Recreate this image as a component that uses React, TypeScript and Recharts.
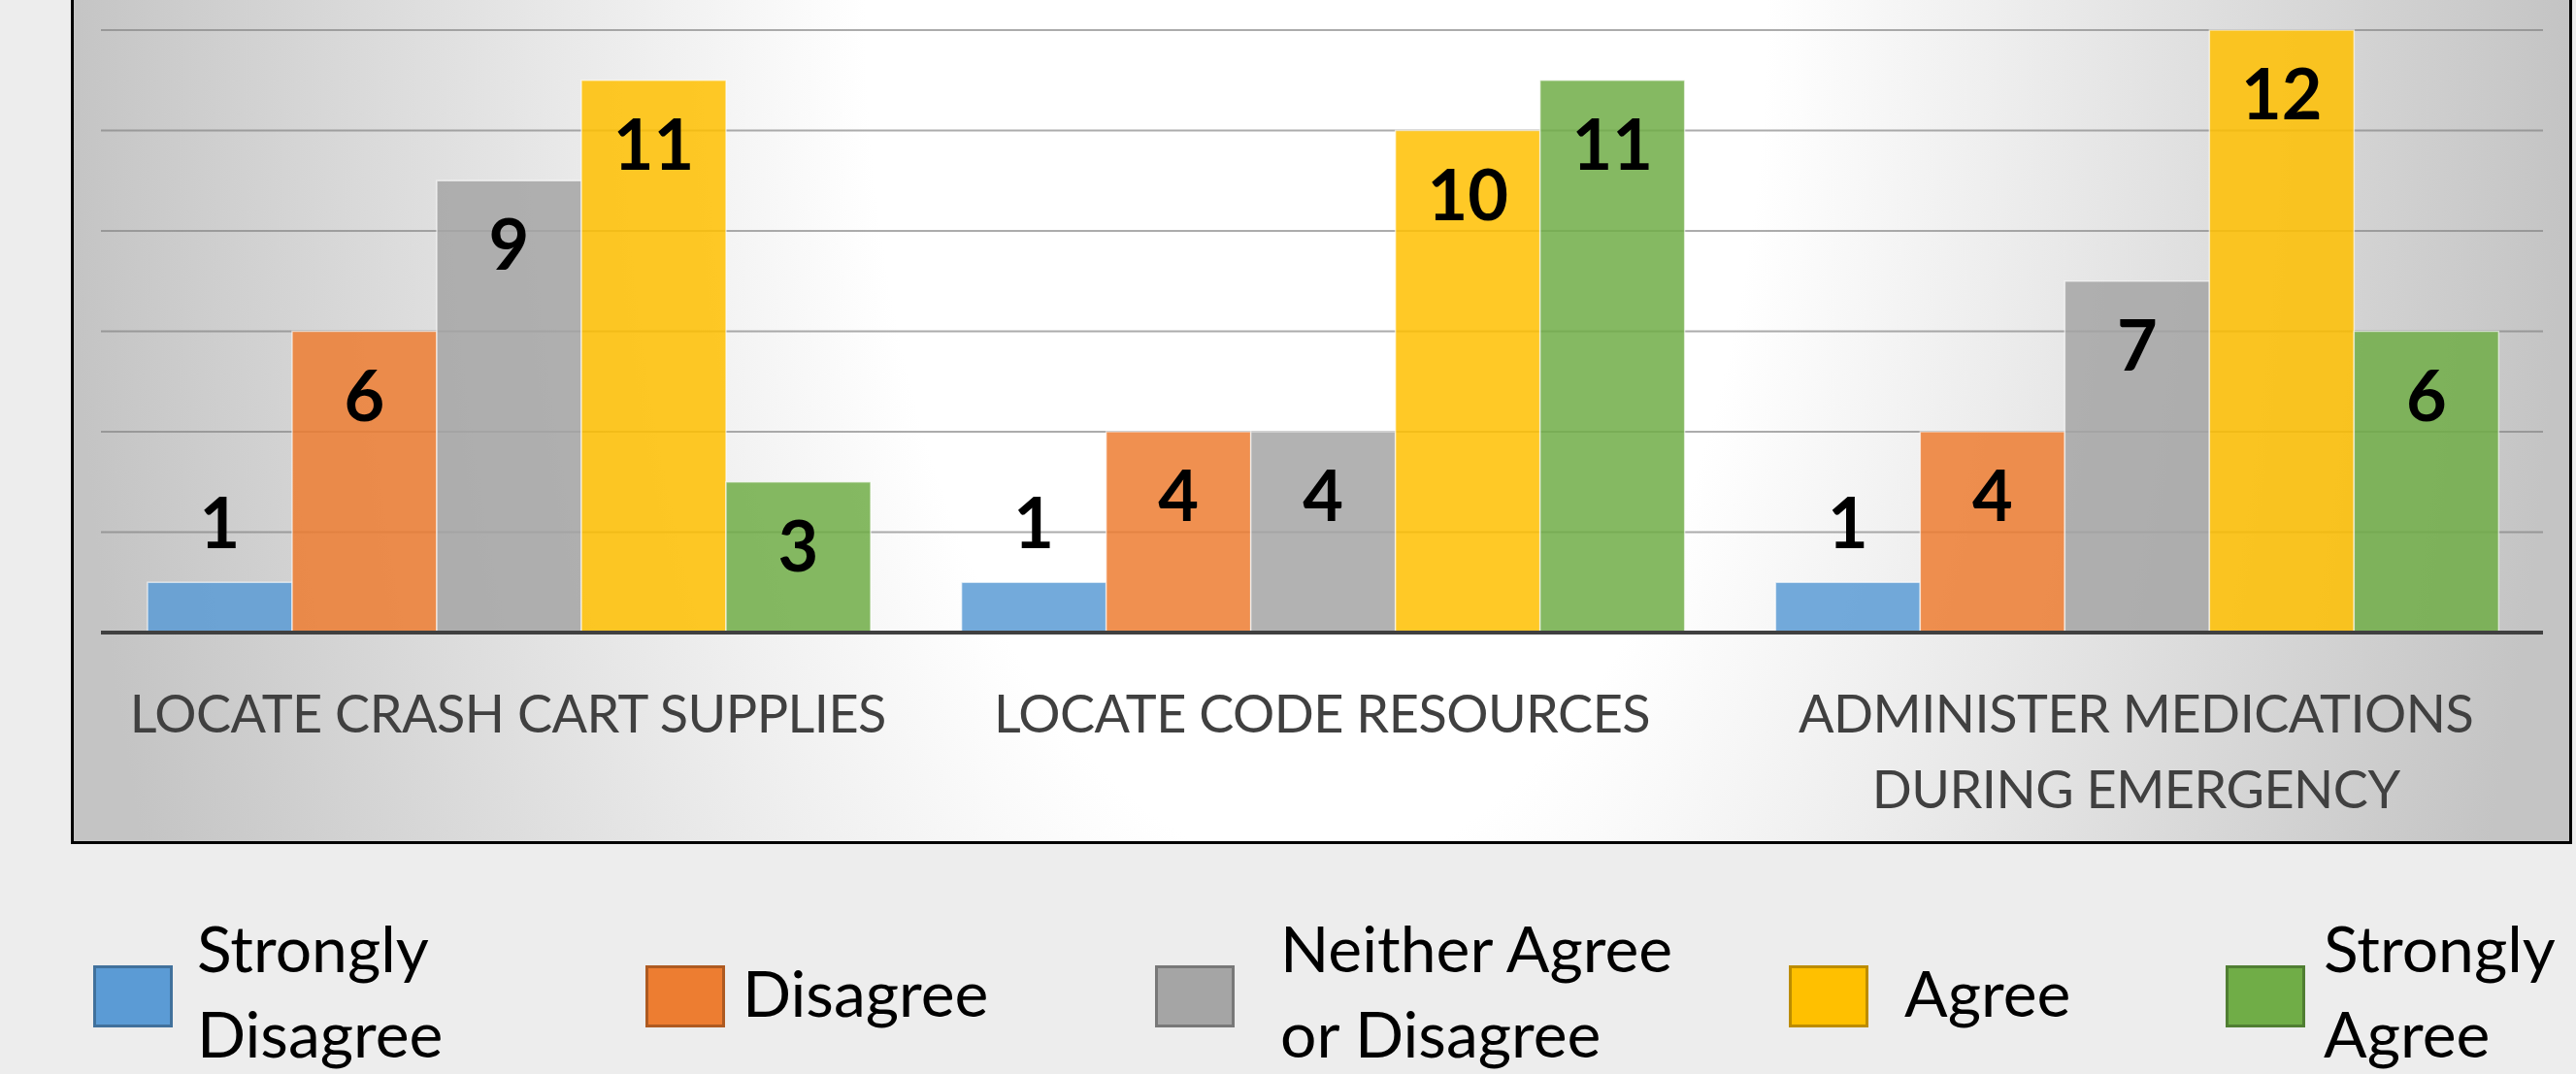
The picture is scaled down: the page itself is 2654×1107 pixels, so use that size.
import { Bar, BarChart, CartesianGrid, LabelList, XAxis, YAxis } from "recharts";

const categories = [
  "LOCATE CRASH CART SUPPLIES",
  "LOCATE CODE RESOURCES",
  "ADMINISTER MEDICATIONS DURING EMERGENCY",
];
const stronglyDisagree = [1, 1, 1];
const disagree = [6, 4, 4];
const neither = [9, 4, 7];
const agree = [11, 10, 12];
const stronglyAgree = [3, 11, 6];
const yTicks = [0, 2, 4, 6, 8, 10, 12];

const series = [
  { key: "sd", name: "Strongly Disagree", values: stronglyDisagree, color: "#5b9bd5", edge: "#41719c" },
  { key: "d", name: "Disagree", values: disagree, color: "#ed7d31", edge: "#ae5a21" },
  { key: "n", name: "Neither Agree or Disagree", values: neither, color: "#a5a5a5", edge: "#787878" },
  { key: "a", name: "Agree", values: agree, color: "#ffc000", edge: "#bc8c00" },
  { key: "sa", name: "Strongly Agree", values: stronglyAgree, color: "#70ad47", edge: "#507e32" },
];

const data = categories.map((name, i) => {
  const row: Record<string, string | number> = { name };
  series.forEach((s) => (row[s.key] = s.values[i]));
  return row;
});

// legend layout (square left, text left)
const LEGEND_SQ = [96, 665, 1190, 1843, 2293];
const LEGEND_TX = [203, 765, 1319, 1962, 2394];

const FONT = "Lato, 'Open Sans', sans-serif";

function wrap(text: string, max: number) {
  const out: string[] = [];
  let line = "";
  for (const w of text.split(" ")) {
    const next = line ? line + " " + w : w;
    if (next.length > max && line) {
      out.push(line);
      line = w;
    } else line = next;
  }
  if (line) out.push(line);
  return out;
}

function CategoryTick(props: any) {
  const { x, y, payload } = props;
  const lines = wrap(String(payload.value), 27);
  return (
    <text
      x={x}
      y={Number(y) + 103}
      textAnchor="middle"
      fill="#404040"
      fontSize={54}
      letterSpacing={-0.5}
      fontFamily={FONT}
    >
      {lines.map((l, i) => (
        <tspan key={i} x={x} dy={i === 0 ? 0 : 78}>
          {l}
        </tspan>
      ))}
    </text>
  );
}

function ValueLabel(props: any) {
  const x = Number(props.x);
  const y = Number(props.y);
  const width = Number(props.width);
  const height = Number(props.height);
  const inside = height > 100;
  return (
    <text
      x={x + width / 2}
      y={inside ? y + 92 : y - 35}
      textAnchor="middle"
      fontFamily={FONT}
      fontWeight={700}
      fontSize={72}
      fill="#000"
    >
      {props.value}
    </text>
  );
}

function LegendOverlay() {
  return (
    <svg width={2654} height={1107} style={{ position: "absolute", left: 0, top: 0, pointerEvents: "none" }}>
      {series.map((s, i) => {
        const lines = wrap(s.name, 13);
        const first = lines.length > 1 ? 1002 : 1048;
        return (
          <g key={s.key}>
            <rect x={LEGEND_SQ[i] + 1.5} y={996.5} width={79} height={61} fill={s.color} stroke={s.edge} strokeWidth={3} />
            <text x={LEGEND_TX[i]} y={first} fontFamily={FONT} fontSize={66} fill="#000">
              {lines.map((l, j) => (
                <tspan key={j} x={LEGEND_TX[i]} dy={j === 0 ? 0 : 88}>
                  {l}
                </tspan>
              ))}
            </text>
          </g>
        );
      })}
    </svg>
  );
}

export default function App() {
  return (
    <div
      style={{
        position: "absolute",
        left: 0,
        top: 0,
        width: 2654,
        height: 1107,
        overflow: "hidden",
        background: "#ededed",
        fontFamily: FONT,
      }}
    >
      <div
        style={{
          position: "absolute",
          left: 73,
          top: -10,
          width: 2577,
          height: 880,
          boxSizing: "border-box",
          border: "3px solid #000",
          background:
            "radial-gradient(ellipse 1290px 2490px at 1280px 10px, #ffffff 0%, #ffffff 36%, #c4c4c4 100%)",
        }}
      />
      <div style={{ position: "absolute", left: 0, top: 0 }}>
        <BarChart
          width={2654}
          height={1107}
          data={data}
          margin={{ top: 31, right: 34, left: 104, bottom: 255 }}
          barCategoryGap={48}
          barGap={0}
        >
          <CartesianGrid vertical={false} stroke="#7f7f7f" strokeOpacity={0.65} strokeWidth={2} />
          <YAxis hide domain={[0, 12]} ticks={yTicks} />
          <XAxis
            dataKey="name"
            height={200}
            tickLine={false}
            tickSize={0}
            tickMargin={0}
            axisLine={{ stroke: "#404040", strokeWidth: 4 }}
            tick={<CategoryTick />}
            interval={0}
          />
          {series.map((s) => (
            <Bar
              key={s.key}
              dataKey={s.key}
              name={s.name}
              fill={s.color}
              fillOpacity={0.85}
              stroke="#ffffff"
              strokeOpacity={0.6}
              strokeWidth={1.5}
              isAnimationActive={false}
            >
              <LabelList dataKey={s.key} content={<ValueLabel />} />
            </Bar>
          ))}
        </BarChart>
      </div>
      <LegendOverlay />
    </div>
  );
}
